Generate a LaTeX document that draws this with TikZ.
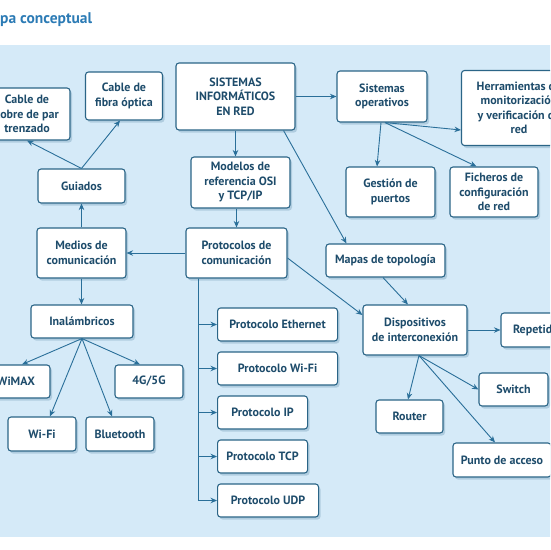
\documentclass[tikz,border=0pt]{standalone}
\usepackage{fontspec}
\setmainfont{PT Sans}
\usetikzlibrary{arrows.meta,calc,shadows}
\definecolor{ink}{HTML}{1E4C6B}
\definecolor{frame}{HTML}{2B6587}
\definecolor{link}{HTML}{2A6F99}
\definecolor{panel}{HTML}{D5EAF8}
\definecolor{heading}{HTML}{2C7BB5}
\tikzset{
  box/.style={rounded corners=3pt,draw=frame,fill=white,line width=1.1pt,text=ink,
              font=\fontsize{12}{14.5}\selectfont\bfseries,align=center,inner sep=2pt,
              drop shadow={shadow xshift=2pt,shadow yshift=-2.5pt,opacity=0.22,fill=frame}},
  arrow/.style={-{Stealth[length=6.5pt,width=5.5pt]},line width=0.9pt,color=link},
}
\begin{document}
\begin{tikzpicture}[x=1pt,y=-1pt]
    \clip (0,0) rectangle (550,550);
    % Title and panel
    \node[anchor=base west,inner sep=0pt,font=\fontsize{15.5}{18}\selectfont\bfseries,text=heading]
      (titulo) at (0,23.5) {\llap{Ma}pa conceptual};
    \fill[panel] (-5,45) rectangle (555,537);
    % Top row
    \node[box,minimum width=86,minimum height=52] (cobre) at (27,114) {Cable de\\cobre de par\\trenzado};
    \node[box,minimum width=77,minimum height=48] (fibra) at (124,96) {Cable de\\fibra óptica};
    \node[box,minimum width=119,minimum height=67] (sistemas) at (235.5,96.5) {SISTEMAS\\INFORMÁTICOS\\EN RED};
    \node[box,minimum width=90,minimum height=51] (sisop) at (382,96.5) {Sistemas\\operativos};
    \node[box,minimum width=115,minimum height=75] (herram) at (519,108)
      {Herramientas de\\monitorización\\y verificación de\\red};
    % Second row
    \node[box,minimum width=87,minimum height=34] (guiados) at (81.5,186) {Guiados};
    \node[box,minimum width=99,minimum height=51] (modelos) at (240.5,182.5) {Modelos de\\referencia OSI\\y TCP/IP};
    \node[box,minimum width=89,minimum height=50] (gestion) at (390.5,192) {Gestión de\\puertos};
    \node[box,minimum width=88,minimum height=50] (ficheros) at (494,192) {Ficheros de\\configuración\\de red};
    % Third row
    \node[box,minimum width=89,minimum height=50] (medios) at (81.5,253) {Medios de\\comunicación};
    \node[box,minimum width=101,minimum height=50] (protocolos) at (236.5,253) {Protocolos de\\comunicación};
    \node[box,minimum width=119,minimum height=33] (mapas) at (385.5,260.5) {Mapas de topología};
    % Wireless media
    \node[box,minimum width=102,minimum height=33] (inalam) at (82,321.5) {Inalámbricos};
    \node[box,minimum width=68,minimum height=33] (wimax) at (16,381.5) {WiMAX};
    \node[box,minimum width=68,minimum height=33] (g45) at (149,381.5) {4G/5G};
    \node[box,minimum width=68,minimum height=34] (wifi) at (42,434) {Wi-Fi};
    \node[box,minimum width=68,minimum height=34] (bt) at (120,434) {Bluetooth};
    % Protocols
    \foreach \id/\lab/\w [count=\k from 0] in {eth/Ethernet/120,wifi/Wi-Fi/120,ip/IP/90,tcp/TCP/90,udp/UDP/101}{
      \node[box,anchor=west,minimum width=\w,minimum height=33] (p\id) at (217,324.5+\k*44) {Protocolo \lab};
    }
    % Devices
    \node[box,minimum width=104,minimum height=50] (disp) at (415,330) {Dispositivos\\de interconexión};
    \node[box,minimum width=74,minimum height=34] (repetidor) at (538,330) {Repetidor};
    \node[box,minimum width=69,minimum height=33] (switch) at (513.5,389.5) {Switch};
    \node[box,minimum width=67,minimum height=33] (router) at (409.5,416.5) {Router};
    \node[box,minimum width=98,minimum height=34] (punto) at (502,460) {Punto de acceso};
    % Connectors
    \draw[arrow] (sistemas) -- (sisop);
    \draw[arrow] (sistemas.south) -- (sistemas.south |- modelos.north);
    \draw[arrow] (modelos.south -| protocolos.north) -- (protocolos.north);
    \draw[arrow] ($(sistemas.south east)+(-12,0)$) -- ($(mapas.north west)+(21,0)$);
    \draw[arrow] ($(sisop.south)+(-1,0)$) -- ($(gestion.north)+(-13.5,0)$);
    \draw[arrow] ($(sisop.south)+(3,0)$) -- ($(ficheros.north west)+(27,0)$);
    \draw[arrow] ($(sisop.south)+(3,0)$) -- ($(herram.west)+(0,22)$);
    \draw[arrow] (protocolos) -- (medios);
    \draw[arrow] ($(protocolos.east)+(0,5)$) -- ($(disp.west)+(0,-15)$);
    \draw[arrow] ($(mapas.south)+(-2.5,0)$) -- ($(disp.north)+(-7,0)$);
    \coordinate (bus) at ($(protocolos.south west)+(13,0)$);
    \foreach \id in {eth,wifi,ip,tcp,udp}{
      \draw[arrow] (bus) |- (p\id.west);
    }
    \draw[arrow] (medios) -- (guiados);
    \draw[arrow] (guiados.north) -- (cobre.south);
    \draw[arrow] (guiados.north) -- ($(fibra.south)+(-4,0)$);
    \draw[arrow] (medios.south) -- (medios.south |- inalam.north);
    \foreach \dst/\dx in {wimax/6,g45/-9,wifi/8,bt/-8}{
      \draw[arrow] (inalam.south) -- ($(\dst.north)+(\dx,0)$);
    }
    \draw[arrow] (disp) -- (repetidor);
    \coordinate (dbase) at ($(disp.south)+(4,0)$);
    \draw[arrow] (dbase) -- (switch.west);
    \draw[arrow] (dbase) -- ($(router.north)+(-1.5,0)$);
    \draw[arrow] (dbase) -- ($(punto.north)+(-7,0)$);
\end{tikzpicture}
\end{document}
